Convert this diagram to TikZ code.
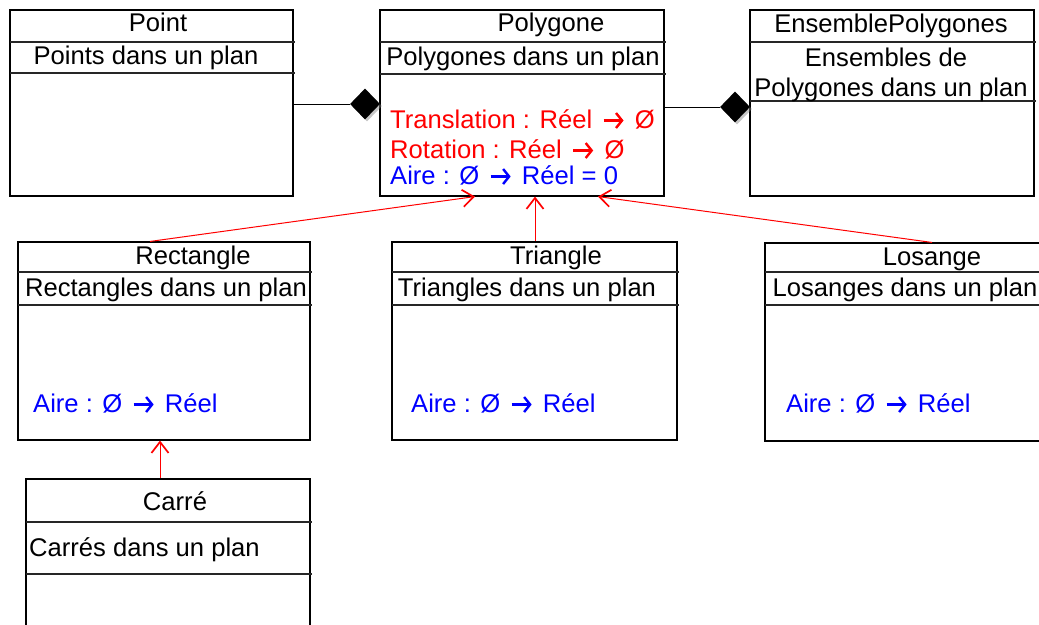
\documentclass[tikz,border=0pt]{standalone}
\usepackage{fontspec}
\setmainfont{Liberation Sans}
\usetikzlibrary{shapes.geometric,arrows.meta,shadows}

% bold open-headed arrow used in the operation signatures
\newcommand{\fleche}{\hspace{3pt}\tikz[baseline=0pt]\draw[line width=2.4pt,
  -{Straight Barb[length=6pt,width=15pt,line width=2.4pt]}] (0pt,7.5pt) -- (20pt,7.5pt);\hspace{3pt}}

\begin{document}
\begin{tikzpicture}[x=1pt,y=-1pt,
  umlbox/.style={draw=black, line width=1.1pt, rectangle, inner sep=0pt},
  sepline/.style={draw=black!85, line width=1.1pt},
  txt/.style={inner sep=0pt, anchor=base, font=\fontsize{25.6}{30}\selectfont},
  ltxt/.style={txt, anchor=base west},
  redtxt/.style={ltxt, text=red},
  bluetxt/.style={ltxt, text=blue},
  compo/.style={diamond, fill=black, inner sep=0pt, minimum width=30pt, minimum height=31pt,
    drop shadow={shadow xshift=2pt, shadow yshift=-2pt, opacity=0.45}},
  assoc/.style={draw=black, line width=1pt},
  inherit/.style={draw=red, line width=1pt,
    -{Straight Barb[length=11pt, width=17pt, line width=1.7pt]}}
]
\useasboundingbox (0,0) rectangle (1039,624);
\clip (0,0) rectangle (1039,624);

% class boxes
\node[umlbox, minimum width=283pt, minimum height=186pt] (point) at (151.5,103) {};
\node[umlbox, minimum width=284pt, minimum height=186pt] (poly)  at (522,103) {};
\node[umlbox, minimum width=284pt, minimum height=186pt] (ens)   at (892,103) {};
\node[umlbox, minimum width=292pt, minimum height=198pt] (rect)  at (164,341) {};
\node[umlbox, minimum width=285pt, minimum height=198pt] (tri)   at (534.5,341) {};
\node[umlbox, minimum width=280pt, minimum height=198pt] (los)   at (905,342) {};
\node[umlbox, minimum width=284pt, minimum height=181pt] (carre) at (168,569.5) {};

% compartment separators
\draw[sepline] (10,42) -- (295,42);   \draw[sepline] (10,73) -- (295,73);
\draw[sepline] (380,42) -- (666,42);  \draw[sepline] (380,74) -- (666,74);
\draw[sepline] (750,42) -- (1036,42); \draw[sepline] (750,101) -- (1036,101);
\draw[sepline] (18,272) -- (312,272); \draw[sepline] (18,305) -- (312,305);
\draw[sepline] (392,272) -- (679,272); \draw[sepline] (392,305) -- (679,305);
\draw[sepline] (765,272) -- (1039,272); \draw[sepline] (765,305) -- (1039,305);
\draw[sepline] (26,522) -- (312,522); \draw[sepline] (26,574) -- (312,574);

% class names and descriptions
\node[txt] (pointT) at (158,31) {Point};
\node[txt] (pointD) at (146,64) {Points dans un plan};
\node[txt] (polyT) at (551,31) {Polygone};
\node[txt] (polyD) at (523,65) {Polygones dans un plan};
\node[redtxt] (polyM1) at (390,128) {Translation : Réel \fleche{} Ø};
\node[redtxt] (polyM2) at (390,158) {Rotation : Réel \fleche{} Ø};
\node[bluetxt] (polyM3) at (390,184) {Aire : Ø \fleche{} Réel = 0};
\node[txt] (ensT) at (891,32) {EnsemblePolygones};
\node[txt] (ensD1) at (886,66) {Ensembles de};
\node[txt] (ensD2) at (891,96) {Polygones dans un plan};
\node[txt] (rectT) at (193,264) {Rectangle};
\node[txt] (rectD) at (166,296) {Rectangles dans un plan};
\node[bluetxt] (rectM) at (33,412) {Aire : Ø \fleche{} Réel};
\node[txt] (triT) at (556,264) {Triangle};
\node[txt] (triD) at (527,296) {Triangles dans un plan};
\node[bluetxt] (triM) at (411,412) {Aire : Ø \fleche{} Réel};
\node[txt] (losT) at (932,265) {Losange};
\node[txt] (losD) at (905,296) {Losanges dans un plan};
\node[bluetxt] (losM) at (786,412) {Aire : Ø \fleche{} Réel};
\node[txt] (carreT) at (175,510) {Carré};
\node[ltxt] (carreD) at (29,556) {Carrés dans un plan};

% composition links
\node[compo] (d1) at (365,104) {};
\node[compo] (d2) at (735,107) {};
\draw[assoc] (point.east |- d1) -- (d1.west);
\draw[assoc] (poly.east |- d2) -- (d2.west);

% inheritance links
\draw[inherit] ([xshift=-14pt]rect.north) -- ([xshift=-47pt]poly.south);
\draw[inherit] ([xshift=0.5pt]tri.north) -- ([xshift=0.5pt]tri.north |- poly.south);
\draw[inherit] ([xshift=27pt]los.north) -- ([xshift=76pt]poly.south);
\draw[inherit] ([xshift=-8pt]carre.north) -- ([xshift=-8pt]carre.north |- rect.south);
\end{tikzpicture}
\end{document}
